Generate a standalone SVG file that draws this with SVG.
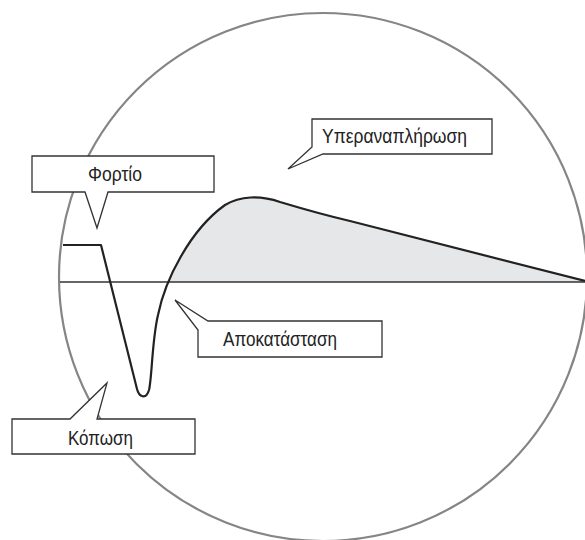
<svg xmlns="http://www.w3.org/2000/svg" width="585" height="540" viewBox="0 0 585 540">
<style>
.callout{fill:#fff;stroke:#333;stroke-width:1.3;stroke-linejoin:miter}
.lbl{font-family:"Liberation Sans",Arial,sans-serif;font-size:21px;fill:#222}
.curve{fill:none;stroke:#222;stroke-width:2.2;stroke-linejoin:round}
</style>
<defs>
<clipPath id="above"><rect x="150" y="0" width="440" height="282"/></clipPath>
</defs>
<rect width="585" height="540" fill="#fff"/>
<g id="circle"><circle cx="323" cy="277" r="264" fill="none" stroke="#858585" stroke-width="2.2"/></g>
<g id="area">
<path clip-path="url(#above)" fill="#e6e7e8" d="M149,390 C152,378 152,340 158,315 C165,280 190,230 225,205 C240,196 260,195 280,202 C300,208 320,214 350,221 L585,281 Z"/>
</g>
<g id="connectors">
<line x1="60" y1="282" x2="585" y2="282" stroke="#333" stroke-width="1.5"/>
<path class="curve" d="M63,245 H101 L137,389 C139,397 146,400 149,390 C152,378 152,340 158,315 C165,280 190,230 225,205 C240,196 260,195 280,202 C300,208 320,214 350,221 L585,281"/>
</g>
<g id="fortio">
<path class="callout" d="M32,156 H214 V192 H108 L97,228 L85,192 H32 Z"/>
<text class="lbl" x="88" y="181" textLength="54" lengthAdjust="spacingAndGlyphs">Φορτίο</text>
</g>
<g id="yperanaplirosi">
<path class="callout" d="M312,119 H492 V154 H323 L288,169 L312,147 Z"/>
<text class="lbl" x="322" y="143" textLength="145" lengthAdjust="spacingAndGlyphs">Υπεραναπλήρωση</text>
</g>
<g id="apokatastasi">
<path class="callout" d="M208,321 H382 V357 H198 V330 L175,300 Z"/>
<text class="lbl" x="223" y="346" textLength="114" lengthAdjust="spacingAndGlyphs">Αποκατάσταση</text>
</g>
<g id="koposi">
<path class="callout" d="M12,419 H70 L107,383 L97,419 H195 V454 H12 Z"/>
<text class="lbl" x="68" y="445" textLength="65" lengthAdjust="spacingAndGlyphs">Κόπωση</text>
</g>
</svg>
